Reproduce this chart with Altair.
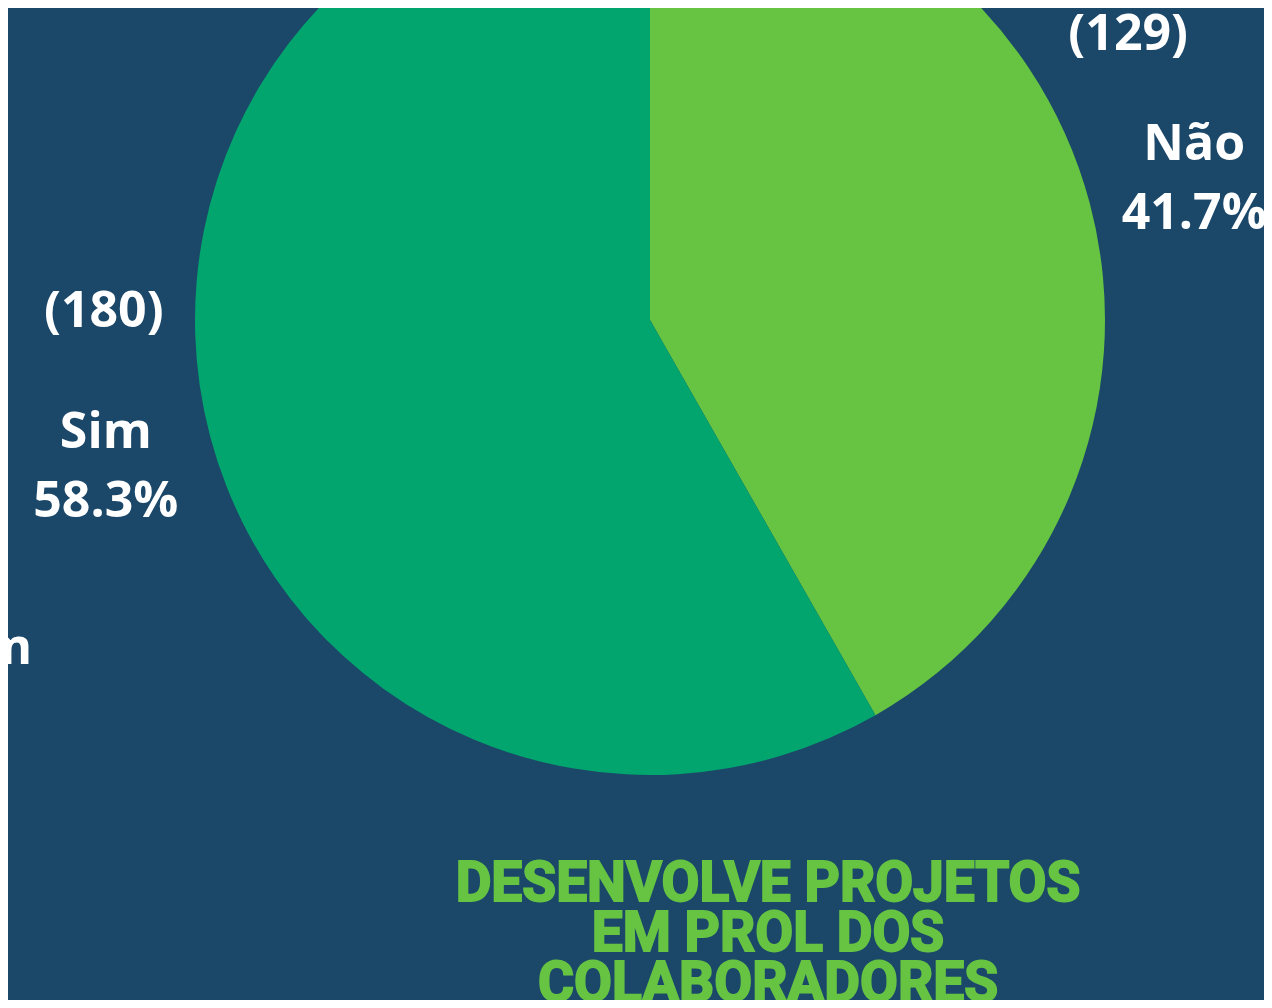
import altair as alt
import pandas as pd

categorias = ["Não", "Sim"]
contagens = [129, 180]
percentuais = ["41.7%", "58.3%"]
cores = ["#66C442", "#02A56E"]
titulo = ["DESENVOLVE PROJETOS", "EM PROL DOS", "COLABORADORES"]

df = pd.DataFrame({"cat": categorias, "n": contagens, "pct": percentuais, "ordem": [0, 1]})
df["rotulo"] = df["cat"] + "\n" + df["pct"]
df["cont"] = "(" + df["n"].astype(str) + ")"

CX, CY, R = 642, 312, 455
W, H = 1256, 992

base = alt.Chart(df).encode(
    theta=alt.Theta("n:Q", stack=True),
    order=alt.Order("ordem:Q"),
    x=alt.value(CX),
    y=alt.value(CY),
)

pie = base.mark_arc(outerRadius=R, stroke=None).encode(
    color=alt.Color("cat:N", scale=alt.Scale(domain=categorias, range=cores), legend=None)
)

txt = dict(font="Open Sans", fontSize=50, fontWeight="bold", color="white",
           align="center", baseline="middle")

labels = base.mark_text(radius=563, lineBreak="\n", lineHeight=69, dy=-31, **txt).encode(
    text="rotulo:N")

cont_nao = base.mark_text(radius=563, dx=-66, dy=-141, **txt).encode(
    text="c1:N").transform_calculate(c1="datum.cat == 'Não' ? datum.cont : ''")

cont_sim = base.mark_text(radius=563, dx=-2, dy=-152, **txt).encode(
    text="c2:N").transform_calculate(c2="datum.cat == 'Sim' ? datum.cont : ''")

tdf = pd.DataFrame({"t": ["\n".join(titulo)]})
title = alt.Chart(tdf).mark_text(
    font="Roboto", fontSize=55, fontWeight="bold", color="#66C442",
    stroke="#66C442", strokeWidth=2,
    lineBreak="\n", lineHeight=50, align="center", baseline="middle",
).encode(text="t:N", x=alt.value(760), y=alt.value(876))

stray = alt.Chart(pd.DataFrame({"t": ["Sim"]})).mark_text(**{**txt, "align": "right"}).encode(
    text="t:N", x=alt.value(24), y=alt.value(641))

chart = alt.layer(pie, labels, cont_nao, cont_sim, title, stray).properties(
    width=W, height=H, autosize=alt.AutoSizeParams(type="none"), padding=0,
    background="#1B4769",
).configure_view(stroke=None)

chart.save("out.html", embed_options={"renderer": "svg", "actions": False})
